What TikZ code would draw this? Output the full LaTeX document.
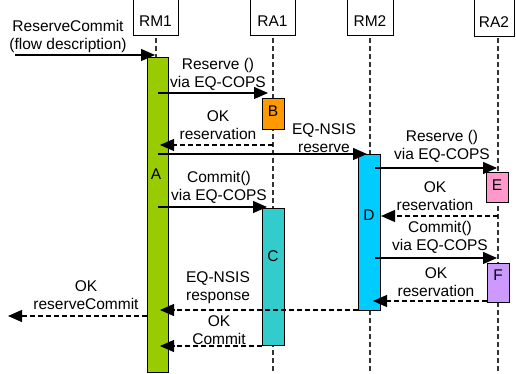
\documentclass[tikz,border=0pt]{standalone}
\usepackage{fontspec}
\setmainfont{Liberation Sans}
\usetikzlibrary{arrows.meta}
\definecolor{cA}{HTML}{99CC00}
\definecolor{cB}{HTML}{FF9900}
\definecolor{cC}{HTML}{33CCCC}
\definecolor{cD}{HTML}{00CCFF}
\definecolor{cE}{HTML}{FF99CC}
\definecolor{cF}{HTML}{CC99FF}
\tikzset{
  hdr/.style={draw, line width=0.9pt, fill=white, minimum width=45pt, minimum height=40pt, inner sep=0pt},
  act/.style={draw, line width=0.9pt, inner sep=0pt},
  life/.style={line width=1.1pt, dash pattern=on 5pt off 3pt, black!80},
  msg/.style={line width=1.2pt, -{Triangle[length=14pt,width=12pt]}},
  ret/.style={msg, dash pattern=on 5pt off 3pt},
  lbl/.style={font=\fontsize{15.5}{18}\selectfont, align=center, inner sep=0pt},
}
\begin{document}
\begin{tikzpicture}[x=1pt,y=-1pt]
\useasboundingbox (0,0) rectangle (516,374);
% lifelines
\coordinate (l1t) at (156,30); \coordinate (l1b) at (156,380);
\coordinate (l2t) at (273,30); \coordinate (l2b) at (273,380);
\coordinate (l3t) at (370,30); \coordinate (l3b) at (370,380);
\coordinate (l4t) at (498,30); \coordinate (l4b) at (498,380);
\draw[life] (l1t) -- (l1b);
\draw[life] (l2t) -- (l2b);
\draw[life] (l3t) -- (l3b);
\draw[life] (l4t) -- (l4b);
% header boxes
\node[hdr, minimum width=45pt, anchor=south west] (RM1) at (133,36) {};
\node[lbl] (tRM1) at (155.5,21) {RM1};
\node[hdr, minimum width=45pt, anchor=south west] (RA1) at (250,36) {};
\node[lbl] (tRA1) at (272.5,21) {RA1};
\node[hdr, minimum width=46pt, anchor=south west] (RM2) at (347,36) {};
\node[lbl] (tRM2) at (370,21) {RM2};
\node[hdr, minimum width=40pt, anchor=south west] (RA2) at (474,37) {};
\node[lbl] (tRA2) at (494,22) {RA2};
% activation boxes
\node[act, fill=cA, minimum width=21pt, minimum height=315pt, anchor=north west] (A) at (147,57) {};
\node[lbl] (tA) at (156,174) {A};
\node[act, fill=cB, minimum width=22pt, minimum height=31pt, anchor=north west] (B) at (262,98) {};
\node[lbl] (tB) at (273,111) {B};
\node[act, fill=cC, minimum width=22pt, minimum height=137pt, anchor=north west] (C) at (262,208) {};
\node[lbl] (tC) at (273,256) {C};
\node[act, fill=cD, minimum width=22pt, minimum height=156pt, anchor=north west] (D) at (358,154) {};
\node[lbl] (tD) at (369,215) {D};
\node[act, fill=cE, minimum width=22pt, minimum height=30pt, anchor=north west] (E) at (486,172) {};
\node[lbl] (tE) at (497,185) {E};
\node[act, fill=cF, minimum width=22pt, minimum height=39pt, anchor=north west] (F) at (487,263) {};
\node[lbl] (tF) at (498,275) {F};
% message endpoints
\coordinate (s0) at (15,55);   \coordinate (e0) at (155,55);
\coordinate (s1) at (158,93);  \coordinate (e1) at (268,93);
\coordinate (s2) at (273,145); \coordinate (e2) at (160,145);
\coordinate (s3) at (158,154); \coordinate (e3) at (367,154);
\coordinate (s4) at (158,207); \coordinate (e4) at (267,207);
\coordinate (s5) at (375,168); \coordinate (e5) at (497,168);
\coordinate (s6) at (498,216); \coordinate (e6) at (381,216);
\coordinate (s7) at (375,258); \coordinate (e7) at (497,258);
\coordinate (s8) at (487,301); \coordinate (e8) at (373,301);
\coordinate (s9) at (358,310); \coordinate (e9) at (160,310);
\coordinate (s10) at (262,346); \coordinate (e10) at (160,346);
\coordinate (s11) at (147,316); \coordinate (e11) at (8,316);
% messages
\draw[msg] (s0) -- (e0);
\draw[msg] (s1) -- (e1);
\draw[ret] (s2) -- (e2);
\draw[msg] (s3) -- (e3);
\draw[msg] (s4) -- (e4);
\draw[msg] (s5) -- (e5);
\draw[ret] (s6) -- (e6);
\draw[msg] (s7) -- (e7);
\draw[ret] (s8) -- (e8);
\draw[ret] (s9) -- (e9);
\draw[ret] (s10) -- (e10);
\draw[ret] (s11) -- (e11);
% labels
\node[lbl] (L0) at (68,36) {ReserveCommit\\(flow description)};
\node[lbl] (L1) at (218,74) {Reserve ()\\via EQ-COPS};
\node[lbl] (L2) at (218,125) {OK\\reservation};
\node[lbl] (L3) at (324,138) {EQ-NSIS\\reserve};
\node[lbl] (L4) at (219,187) {Commit()\\via EQ-COPS};
\node[lbl] (L5) at (442,146) {Reserve ()\\via EQ-COPS};
\node[lbl] (L6) at (435,196) {OK\\reservation};
\node[lbl] (L7) at (440,237) {Commit()\\via EQ-COPS};
\node[lbl] (L8) at (436,282) {OK\\reservation};
\node[lbl] (L9) at (218,288) {EQ-NSIS\\response};
\node[lbl] (L10) at (219,330) {OK\\Commit};
\node[lbl] (L11) at (86,295) {OK\\reserveCommit};
\end{tikzpicture}
\end{document}
